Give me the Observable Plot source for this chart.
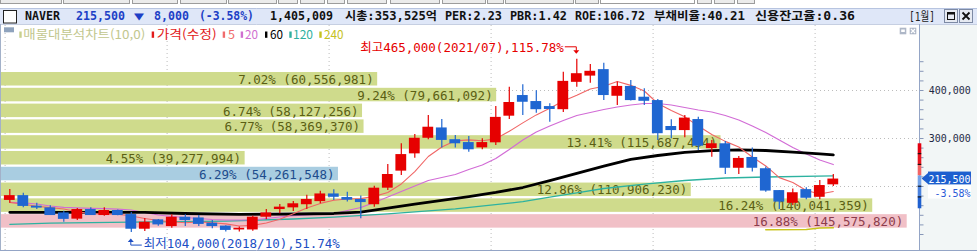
<!DOCTYPE html>
<html lang="ko">
<head>
<meta charset="utf-8">
<script src="https://cdn.jsdelivr.net/npm/d3@7"></script>
<script src="https://cdn.jsdelivr.net/npm/@observablehq/plot@0.6"></script>
<style>
  html, body { margin: 0; padding: 0; background: #ffffff; }
  #chart { position: relative; width: 977px; height: 252px; overflow: hidden; background: #ffffff; }
  #chart svg { position: absolute; left: 0; }
  #panel { position: absolute; left: 920px; top: 24px; width: 57px; height: 226px; background: #f2f6f6; }
</style>
</head>
<body>
<div id="chart"><div id="panel"></div></div>
<script>
// ---------------- DATA ----------------
const months = ["2018/01","2018/02","2018/03","2018/04","2018/05","2018/06","2018/07","2018/08","2018/09","2018/10","2018/11","2018/12",
"2019/01","2019/02","2019/03","2019/04","2019/05","2019/06","2019/07","2019/08","2019/09","2019/10","2019/11","2019/12",
"2020/01","2020/02","2020/03","2020/04","2020/05","2020/06","2020/07","2020/08","2020/09","2020/10","2020/11","2020/12",
"2021/01","2021/02","2021/03","2021/04","2021/05","2021/06","2021/07","2021/08","2021/09","2021/10","2021/11","2021/12",
"2022/01","2022/02","2022/03","2022/04","2022/05","2022/06","2022/07","2022/08","2022/09","2022/10","2022/11","2022/12",
"2023/01","2023/02"];
const openP = [171000,181000,159000,155500,145000,132000,152000,139500,150000,141500,111000,130500,116500,136000,134500,123500,117500,109500,109500,136000,152000,155500,162000,168500,184500,177000,173000,162000,196500,232000,268000,300500,322000,297500,291500,280500,291000,346500,389500,377000,366500,360000,417000,430000,443500,388000,408500,386000,379000,325000,316500,339500,279000,289000,238000,260500,237000,191500,165000,193500,177500,203500];
const highP = [193500,186000,165000,160000,148500,154000,155500,155500,151000,146000,133500,131500,141000,141000,139500,129000,118000,115500,138000,152000,162500,169000,182000,190000,193000,188000,180000,200500,246000,289000,308500,348000,339500,306500,304000,299500,366500,407000,412000,399500,372500,438000,465000,454000,457000,417500,421000,403500,381500,339000,348000,344500,296000,294000,262500,280000,240500,191500,195000,197500,212500,225000];
const lowP = [165000,155500,152000,139500,125500,129000,139500,138000,139000,104000,106000,117000,113000,116500,116500,112000,105000,105000,107000,130500,143000,148000,152000,164000,171000,167500,133000,157000,191500,223000,259000,297500,280000,280000,271500,276500,285500,339500,348000,352500,334000,354000,407000,415000,379000,369000,378000,369000,296000,299500,301500,275000,261000,225000,225000,230000,188000,152000,160500,172500,172500,200000];
const closeP = [181000,158500,155000,139500,131500,152000,139500,150000,139500,111000,125500,120000,136000,129000,121000,116500,108500,113000,136000,145000,157000,164000,173000,184500,177500,171500,166500,196500,225000,266500,300500,323500,296000,289000,276500,291500,344000,375000,375500,360000,360500,419000,435000,440000,389500,408500,379000,377500,310000,316500,342500,284000,289000,238000,258500,238000,190500,167500,187000,175500,202000,215500];

const ma5 = [167000,163000,159000,156000,153000,147200,143500,142500,142500,138500,133200,129300,126500,124400,126400,124600,122200,117600,119000,123900,131900,143000,155000,164800,171300,174200,174700,179400,187500,205300,231100,262500,282300,295100,297100,295300,299300,315200,332500,349200,362900,377900,390100,403100,409000,418600,410700,399000,372900,358300,345100,326100,308400,294000,282400,261500,242800,218500,208200,191700,184400,189500];
const ma20 = [167100,166000,163500,159400,156700,155600,154600,153800,152900,151000,145800,140600,137500,135400,133300,131300,130200,130200,130200,133300,136500,139200,140600,142700,143800,150000,156300,166700,178100,189600,201000,212500,218800,225000,235400,244800,258300,277100,296900,313500,326000,337500,347900,354200,360400,365600,369800,372900,372900,369800,364600,359400,355200,347900,338500,326000,312500,296900,281300,267700,255200,245800];
const ma60Idx = [0,4,8,10,13,17,21,24,26,28,30,32,34,36,38,40,42,44,46,48,50,52,54,56,58,60,61];
const ma60 = [146300,146300,146300,146300,143800,142100,142700,143800,146500,155000,163100,171000,178800,187700,197900,212100,227500,242300,256300,264600,271300,274600,276300,275000,271500,268100,266000];
const ma120Idx = [0,3,9,16,21,24,28,33,38,40,42,44,47,50,53,56,61];
const ma120 = [121300,123500,125600,127700,132300,136000,143100,153500,168300,177700,186500,195800,205000,212500,217700,219800,222300];
const ma240Idx = [56,59,60,61];
const ma240 = [110000,110500,113500,114200];

// 매물대 (volume profile), top band first
const bandHigh = [438500,405600,372700,339800,306900,274000,241100,208200,175300,142400];
const bandLow  = [405600,372700,339800,306900,274000,241100,208200,175300,142400,109500];
const bandPct  = [7.02,9.24,6.74,6.77,13.41,4.55,6.29,12.86,16.24,16.88];
const bandVol  = [60556981,79661092,58127256,58369370,115687434,39277994,54261548,110906230,140041359,145575820];

const yearStartMonths = ["2018/01","2019/01","2020/01","2021/01","2022/01","2023/01"];
const gridPrices = [400000,300000,200000];
const axisLabelPrices = [400000,300000];
const axisTickPrices = [100000,120000,140000,160000,180000,200000,220000,240000,260000,280000,300000,320000,340000,360000,380000,400000,420000,440000,460000];

const stockName = "NAVER";
const lastPrice = 215500, changeAbs = 8000, changePct = "-3.58";
const statTexts = ["1,405,009","시총:353,525억","PER:2.23","PBR:1.42","ROE:106.72","부채비율:40.21","신용잔고율:0.36"];
const hiPrice = 465000, hiMonth = "2021/07", hiPct = "115.78";
const loPrice = 104000, loMonth = "2018/10", loPct = "51.74";
const ladderEdges = [289000,267300,245000,222000,199600,177300,153600];
const ladderColors = ["#e4000f","#e8141e","#f26464","#74a3e8","#4a82de","#1f60d0"];
const legendItems = ["매물대분석차트(10,0)","가격(수정)","5","20","60","120","240"];

// ---------------- LAYOUT ----------------
const W = 977, H = 252, TOP = 25, BOTTOM = 250, AXIS_X = 919;
const X0 = 9.3, STEP = 13.5;
const xDomain = [-X0 / STEP, (AXIS_X - X0) / STEP];
const PXW = 0.00048;               // px per won; 400,000 sits at page y 90
const yDomain = [400000 - (BOTTOM - 90) / PXW, 400000 + (90 - TOP) / PXW];
const PROFILE_FILL = 906.7 / 919;   // share of width taken by the largest band
const volMax = d3.max(bandVol);
const RED = "#e60000", BLUE = "#1f66d1";
const MONO = "'DejaVu Sans Mono','Noto Sans CJK KR',monospace";
const KR = "'Noto Sans CJK KR','DejaVu Sans',sans-serif";
const fmt = d3.format(",");

const common = {width: W, height: H - TOP, marginTop: 0, marginBottom: 2, marginLeft: 0, marginRight: W - AXIS_X};

const candles = months.map((m, i) => ({i, m, open: openP[i], high: highP[i], low: lowP[i], close: closeP[i], up: closeP[i] >= openP[i]}));
const line = (idx, vals) => vals.map((v, k) => ({i: idx ? idx[k] : k, v}));
const curBand = bandHigh.findIndex((h, k) => lastPrice <= h && lastPrice > bandLow[k]);
const maxBand = bandVol.indexOf(volMax);
const bands = bandHigh.map((h, k) => ({hi: h, lo: bandLow[k], pct: bandPct[k], vol: bandVol[k],
  kind: k === curBand ? "cur" : k === maxBand ? "max" : "norm"}));
const bandFill = {norm: "#cfdb8c", cur: "#a9cde1", max: "#f1c0c7"};
const bandText = {norm: "#5b5f14", cur: "#1d4c8c", max: "#8c3c4c"};

function isWide(ch) { return /[\u1100-\u11ff\u3130-\u318f\uac00-\ud7af]/.test(ch); }
function fitText(sel, per) {
  sel.each(function() {
    const t = this.textContent; if (!t) return;
    let n = 0; for (const ch of t) n += isWide(ch) ? 2 : 1;
    this.setAttribute("textLength", n * per);
    this.setAttribute("lengthAdjust", "spacingAndGlyphs");
  });
}
function fixLen(el, w) { el.attr("textLength", w).attr("lengthAdjust", "spacingAndGlyphs"); return el; }
function place(svg) { svg.style.position = "absolute"; svg.style.top = TOP + "px"; svg.style.left = "0px"; svg.style.background = "transparent"; return svg; }

const root = document.getElementById("chart");

// ---- grid layer ----
const gridPlot = Plot.plot({...common,
  x: {domain: xDomain, axis: null}, y: {domain: yDomain, axis: null},
  marks: [
    Plot.ruleY(gridPrices, {stroke: "#bcbcbc", strokeDasharray: "1,3"}),
    Plot.ruleX(yearStartMonths.map(m => months.indexOf(m)), {dx: -4.7, stroke: "#bcbcbc", strokeDasharray: "1,3"})
  ]});
root.appendChild(place(gridPlot));

// ---- volume profile layer ----
const bandPlot = Plot.plot({...common,
  style: {fontFamily: MONO},
  x: {domain: [0, volMax / PROFILE_FILL], axis: null}, y: {domain: yDomain, axis: null},
  marks: [
    Plot.rect(bands, {x1: 0, x2: "vol", y1: "hi", y2: "lo", fill: d => bandFill[d.kind], insetTop: 0.5, insetBottom: 1.8}),
    Plot.text(bands, {x: "vol", y: d => (d.hi + d.lo) / 2, text: d => `${d.pct.toFixed(2)}% (${fmt(d.vol)})`,
      textAnchor: "end", dx: -4, fill: d => bandText[d.kind], fontSize: 12.5, fontFamily: MONO, ariaLabel: "band-label"})
  ]});
root.appendChild(place(bandPlot));
fitText(d3.select(bandPlot).selectAll('g[aria-label="band-label"] text'), 5.93);

// ---- price layer ----
const hiIdx = months.indexOf(hiMonth), loIdx = months.indexOf(loMonth);
const mainPlot = Plot.plot({...common,
  style: {fontFamily: MONO, fontSize: "11px", color: "#1f2a44"},
  x: {domain: xDomain, axis: null},
  y: {domain: yDomain, axis: "right", ticks: axisTickPrices, tickSize: 3.5, tickPadding: 5.8,
      tickFormat: d => axisLabelPrices.includes(d) ? fmt(d) : "", label: null},
  marks: [
    Plot.line(line(ma120Idx, ma120), {x: "i", y: "v", stroke: "#2db2a0", strokeWidth: 1.3}),
    Plot.line(line(ma240Idx, ma240), {x: "i", y: "v", stroke: "#c9c41c", strokeWidth: 1.6}),
    Plot.line(line(null, ma20), {x: "i", y: "v", stroke: "#d26cd6", strokeWidth: 1.2}),
    Plot.line(line(ma60Idx, ma60), {x: "i", y: "v", stroke: "#000000", strokeWidth: 2.8}),
    Plot.line(line(null, ma5), {x: "i", y: "v", stroke: "#f06666", strokeWidth: 1.1}),
    Plot.ruleX(candles, {x: "i", y1: "low", y2: "high", stroke: d => d.up ? RED : BLUE, strokeWidth: 1.2}),
    Plot.rect(candles, {x1: d => d.i - 0.4, x2: d => d.i + 0.4, y1: "open", y2: "close", fill: d => d.up ? RED : BLUE}),
    Plot.text([{i: hiIdx, p: hiPrice}], {x: "i", y: "p", text: () => `최고${fmt(hiPrice)}(${hiMonth}),${hiPct}%`,
      textAnchor: "end", dx: -13, dy: -11, fill: "#e60000", fontSize: 12.5, fontFamily: MONO, ariaLabel: "anno"}),
    Plot.text([{i: loIdx, p: loPrice}], {x: "i", y: "p", text: () => `최저${fmt(loPrice)}(${loMonth}),${loPct}%`,
      textAnchor: "start", dx: 12.5, dy: 11, fill: "#1d4fc4", fontSize: 12.5, fontFamily: MONO, ariaLabel: "anno"})
  ]});
root.appendChild(place(mainPlot));
d3.select(mainPlot).selectAll('g[aria-label="y-axis tick"]').attr("stroke", "#8797b8");
fitText(d3.select(mainPlot).selectAll('g[aria-label="y-axis tick label"] text'), 6);
fitText(d3.select(mainPlot).selectAll('g[aria-label="anno"] text'), 6);

const xs = mainPlot.scale("x"), ys = mainPlot.scale("y");
const X = v => xs.apply(v), Y = v => ys.apply(v) + TOP;

// ---- overlay: header, legend, frame, markers ----
const ov = d3.create("svg").attr("width", W).attr("height", H).style("top", "0px").style("pointer-events", "none");
// toolbar stubs
[[0,62],[63,130],[132,178],[180,227],[228,277],[278,298],[300,325],[327,345],[347,387],[390,440],[442,486],[487,504],[505,574],[575,599],[600,695],[697,712],[714,735],[737,755]]
  .forEach(([a, b], k) => ov.append("rect").attr("x", a + 0.5).attr("y", -2).attr("width", b - a - 1).attr("height", 5.5)
    .attr("fill", k === 14 ? "#ffffff" : "#ebebeb").attr("stroke", "#9c9c9c"));
// title bar
ov.append("rect").attr("x", 0).attr("y", 8).attr("width", W).attr("height", 16.5).attr("fill", "#dfe7f8");
ov.append("line").attr("x1", 0).attr("x2", W).attr("y1", 8.5).attr("y2", 8.5).attr("stroke", "#b7c4e0");
ov.append("line").attr("x1", 0).attr("x2", W).attr("y1", 24.5).attr("y2", 24.5).attr("stroke", "#c6cfe2");
ov.append("rect").attr("x", 3.5).attr("y", 10.5).attr("width", 13).attr("height", 12.5).attr("fill", "#fff").attr("stroke", "#222");
const tb = "#1d3fc6";
const header = [
  [stockName, 25, 35, "#111"], [fmt(lastPrice), 76, 49, tb], ["▼", 134, 10, tb], [fmt(changeAbs), 154, 35, tb], [`(${changePct}%)`, 199, 55, tb],
  [statTexts[0], 270, 63, "#111"], [statTexts[1], 345, 92, "#111"], [statTexts[2], 445, 57, "#111"], [statTexts[3], 510, 57, "#111"],
  [statTexts[4], 575, 70, "#111"], [statTexts[5], 654, 91, "#111"], [statTexts[6], 755, 100, "#111"]];
header.forEach(([t, x, w, c]) => {
  fixLen(ov.append("text").attr("x", x).attr("y", 20).attr("fill", c).attr("font-family", MONO)
    .attr("font-weight", "bold").attr("font-size", 11.8).text(t), w);
});
fixLen(ov.append("text").attr("x", 909).attr("y", 20.5).attr("fill", "#222").attr("font-family", MONO).attr("font-size", 12).text("[1월]"), 26);
// window buttons
ov.append("rect").attr("x", 944.5).attr("y", 9.5).attr("width", 13).attr("height", 13).attr("fill", "#e6eaf2").attr("stroke", "#7d8aa4");
ov.append("rect").attr("x", 947.5).attr("y", 12.5).attr("width", 7).attr("height", 7).attr("fill", "none").attr("stroke", "#111");
ov.append("line").attr("x1", 947.5).attr("x2", 954.5).attr("y1", 13.5).attr("y2", 13.5).attr("stroke", "#111").attr("stroke-width", 2);
ov.append("rect").attr("x", 959.5).attr("y", 9.5).attr("width", 13).attr("height", 13).attr("fill", "#e6eaf2").attr("stroke", "#7d8aa4");
ov.append("path").attr("d", "M962.5,12.5L969.5,19.5M969.5,12.5L962.5,19.5").attr("stroke", "#111").attr("stroke-width", 1.8);
// legend
ov.append("rect").attr("x", 4).attr("y", 27.3).attr("width", 10).attr("height", 5).attr("fill", "#8fa3bd");
const legendPos = [[19.3, 23.3, 122, "#c8d08e", "#c2c78e"], [151.7, 156.7, 60, "#e21b1b", "#e21b1b"], [222.7, 228, 7, "#f06c6c", "#f06c6c"],
  [240.7, 245, 13, "#d06ed0", "#d06ed0"], [265, 270, 13, "#000", "#000"], [289.3, 293, 20, "#2fb0a0", "#2fb0a0"], [319.3, 324, 19.5, "#c5c21e", "#c5c21e"]];
legendItems.forEach((t, k) => {
  const [mx, tx, w, mc, tc] = legendPos[k];
  ov.append("rect").attr("x", mx).attr("y", 31.5).attr("width", 2.4).attr("height", 6.3).attr("fill", mc);
  fixLen(ov.append("text").attr("x", tx).attr("y", 38.5).attr("fill", tc).attr("font-family", KR).attr("font-size", 12).text(t), w);
});
// small panel icons
ov.append("rect").attr("x", 899.7).attr("y", 27.7).attr("width", 6.6).attr("height", 6.6).attr("fill", "#aeb7c7");
ov.append("rect").attr("x", 901.2).attr("y", 29.5).attr("width", 3.6).attr("height", 2.5).attr("fill", "#fff");
ov.append("rect").attr("x", 909.7).attr("y", 27.7).attr("width", 6.6).attr("height", 6.6).attr("fill", "#aeb7c7");
ov.append("path").attr("d", "M911,29L915,33M915,29L911,33").attr("stroke", "#fff").attr("stroke-width", 1.2);
// frame
ov.append("line").attr("x1", 0.5).attr("x2", 0.5).attr("y1", 24).attr("y2", BOTTOM).attr("stroke", "#a3b1c9");
ov.append("line").attr("x1", AXIS_X + 0.5).attr("x2", AXIS_X + 0.5).attr("y1", 24).attr("y2", BOTTOM).attr("stroke", "#94a5c6");
ov.append("line").attr("x1", 0).attr("x2", W).attr("y1", BOTTOM + 0.5).attr("y2", BOTTOM + 0.5).attr("stroke", "#94a5c6");
// price ladder on axis
ladderColors.forEach((c, k) => {
  ov.append("rect").attr("x", 917.7).attr("width", 3.6).attr("y", Y(ladderEdges[k])).attr("height", Y(ladderEdges[k + 1]) - Y(ladderEdges[k])).attr("fill", c);
});
[1, 2, 4, 5].forEach(k => ov.append("line").attr("x1", 917.7).attr("x2", 921.3).attr("y1", Y(ladderEdges[k])).attr("y2", Y(ladderEdges[k])).attr("stroke", "#000"));
// last price marker
const c = Y(lastPrice);
ov.append("path").attr("d", `M921.6,${c}L928,${c - 5.5}L928,${c + 5.5}Z`).attr("fill", "#1d5fcf");
ov.append("rect").attr("x", 928).attr("y", c - 7).attr("width", 43).attr("height", 12.8).attr("fill", "#1d5fcf");
fixLen(ov.append("text").attr("x", 928.5).attr("y", c + 4.2).attr("fill", "#fff").attr("font-family", MONO).attr("font-size", 11).text(fmt(lastPrice)), 42);
ov.append("rect").attr("x", 928).attr("y", c + 6.5).attr("width", 43).attr("height", 13.5).attr("fill", "#fff");
fixLen(ov.append("text").attr("x", 970.5).attr("y", c + 18.2).attr("text-anchor", "end").attr("fill", "#2a5bd7").attr("font-family", MONO).attr("font-size", 11).text(`${changePct}%`), 36);
// annotation arrows
const hx = X(hiIdx), hy = Y(hiPrice);
ov.append("path").attr("d", `M${hx - 11.5},${hy - 12}H${hx}V${hy - 8}`).attr("fill", "none").attr("stroke", "#e60000");
ov.append("path").attr("d", `M${hx - 3},${hy - 8.5}L${hx + 3},${hy - 8.5}L${hx},${hy - 5}Z`).attr("fill", "#e60000");
const lx = X(loIdx), ly = Y(loPrice);
ov.append("path").attr("d", `M${lx},${ly + 9}V${ly + 13}H${lx + 11}`).attr("fill", "none").attr("stroke", "#1d4fc4");
ov.append("path").attr("d", `M${lx - 3},${ly + 10}L${lx + 3},${ly + 10}L${lx},${ly + 6.5}Z`).attr("fill", "#1d4fc4");
root.appendChild(ov.node());
</script>
</body>
</html>
